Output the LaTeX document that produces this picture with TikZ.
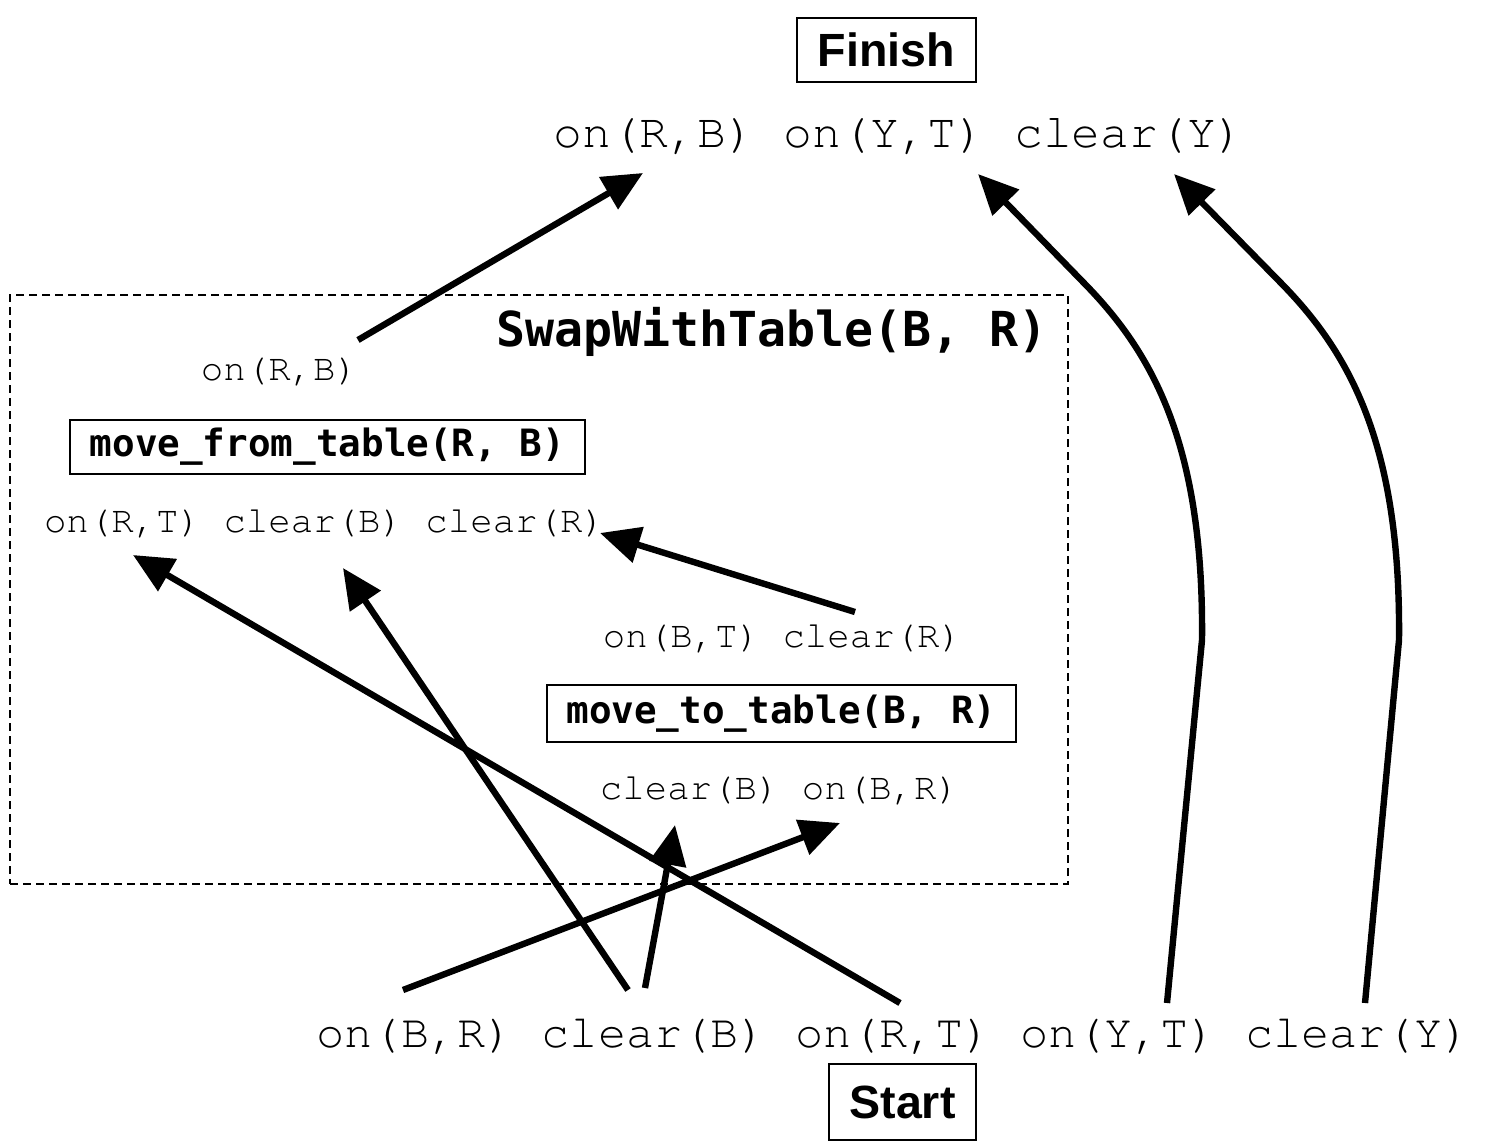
\documentclass[tikz,border=0pt]{standalone}
\usepackage{fontspec}
\newfontfamily\courf{texgyrecursor-regular.otf}
\newfontfamily\monob{DejaVu Sans Mono}
\newfontfamily\sansf{Liberation Sans}
\usetikzlibrary{arrows.meta}
\begin{document}
\begin{tikzpicture}[x=0.5pt,y=-0.5pt,
  small/.style={font=\courf\fontsize{18.7pt}{22pt}\selectfont, inner sep=0pt, anchor=base},
  act/.style={draw, line width=0.75pt, inner sep=0pt, font=\monob\bfseries\fontsize{18.8pt}{22pt}\selectfont},
  term/.style={draw, line width=0.75pt, inner sep=0pt, font=\sansf\bfseries\fontsize{23.3pt}{28pt}\selectfont},
  link/.style={line width=3.2pt, -{Triangle[length=20pt,width=18pt]}},
  group/.style={draw, dashed, dash pattern=on 4pt off 2.5pt, line width=0.75pt, inner sep=0pt},
]
\useasboundingbox (0,0) rectangle (1493,1141);

% group box
\node[group, minimum width=529pt, minimum height=294.5pt] (swap) at (539,589.5) {};
\node[font=\monob\bfseries\fontsize{24.1pt}{28pt}\selectfont, inner sep=0pt, anchor=base] (swaplbl) at (772,346) {SwapWithTable(B, R)};

% terminals
\node[term, minimum width=89.5pt, minimum height=32pt] (finish) at (886.5,50) {Finish};
\node[term, minimum width=73.5pt, minimum height=38pt] (start) at (902.5,1102) {Start};

% condition lines
\node[font=\courf\fontsize{24pt}{28pt}\selectfont, inner sep=0pt, anchor=base] (goal) at (899,147) {on(R,B) on(Y,T) clear(Y)};
\node[font=\courf\fontsize{23.45pt}{28pt}\selectfont, inner sep=0pt, anchor=base] (init) at (893.5,1047) {on(B,R) clear(B) on(R,T) on(Y,T) clear(Y)};

\node[small] (mfpost) at (279.5,380) {on(R,B)};
\node[act, minimum width=257.5pt, minimum height=27pt] (mf) at (327.5,447) {move\_from\_table(R, B)};
\node[small] (mfpre) at (324.5,532) {on(R,T) clear(B) clear(R)};

\node[small] (mtpost) at (782.5,647) {on(B,T) clear(R)};
\node[act, minimum width=234.5pt, minimum height=28.5pt] (mt) at (781.5,713.5) {move\_to\_table(B, R)};
\node[small] (mtpre) at (779.5,799) {clear(B) on(B,R)};

% connector end points
\coordinate (a1s) at (358,340);   \coordinate (a1e) at (643,173);
\coordinate (a2s) at (1167,1003); \coordinate (a2m) at (1202,640);
\coordinate (a2n) at (1083,282);  \coordinate (a2e) at (978,174);
\coordinate (a3s) at (1365,1003); \coordinate (a3m) at (1399,640);
\coordinate (a3n) at (1280,282);  \coordinate (a3e) at (1174,174);
\coordinate (a4s) at (855,612);   \coordinate (a4e) at (600,533);
\coordinate (a5s) at (900,1003);  \coordinate (a5e) at (133,555);
\coordinate (a6s) at (628,990);   \coordinate (a6e) at (343,568);
\coordinate (a7s) at (645,988);   \coordinate (a7e) at (675,825);
\coordinate (a8s) at (403,990);   \coordinate (a8e) at (840,823);

\draw[link] (a1s) -- (a1e);
\draw[link] (a2s) -- (a2m) .. controls (1204,440) and (1150,350) .. (a2n) -- (a2e);
\draw[link] (a3s) -- (a3m) .. controls (1401,440) and (1347,350) .. (a3n) -- (a3e);
\draw[link] (a4s) -- (a4e);
\draw[link] (a5s) -- (a5e);
\draw[link] (a6s) -- (a6e);
\draw[link] (a7s) -- (a7e);
\draw[link] (a8s) -- (a8e);
\end{tikzpicture}
\end{document}
